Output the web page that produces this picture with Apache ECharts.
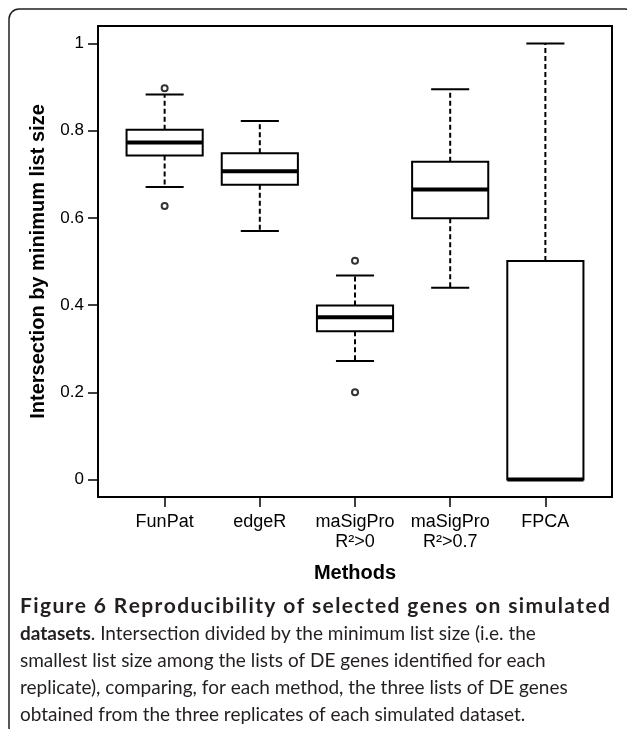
<!DOCTYPE html>
<html>
<head>
<meta charset="utf-8">
<script src="https://cdn.jsdelivr.net/npm/echarts@6/dist/echarts.min.js"></script>
<style>
  body { margin: 0; background: #fff; }
  #chart { width: 627px; height: 729px; }
</style>
</head>
<body>
<div id="chart"></div>
<script>
// methods on the x axis (positions 1..5)
const categories = ['FunPat', 'edgeR', 'maSigPro\nR²>0', 'maSigPro\nR²>0.7', 'FPCA'];
const positions = [1, 2, 3, 4, 5];
// box statistics
const lowWhisker = [0.671, 0.570, 0.272, 0.440, 0];
const lowerQuartile = [0.743, 0.676, 0.340, 0.599, 0];
const medians = [0.773, 0.707, 0.372, 0.665, 0];
const upperQuartile = [0.802, 0.748, 0.399, 0.729, 0.501];
const highWhisker = [0.883, 0.822, 0.468, 0.895, 1.0];
// outliers
const outlierPos = [1, 1, 3, 3];
const outlierValues = [0.897, 0.627, 0.502, 0.200];
const yTicks = [0, 0.2, 0.4, 0.6, 0.8, 1];

const boxData = positions.map((p, i) =>
  [p, lowWhisker[i], lowerQuartile[i], medians[i], upperQuartile[i], highWhisker[i]]);
const outlierData = outlierPos.map((p, i) => [p, outlierValues[i]]);

const INK = '#000';
const TEXT = '#231f20';
const captionFont = 'Lato';

function renderBox(params, api) {
  const x = api.value(0);
  const unit = api.size([1, 0])[0];
  const half = unit * 0.4, capHalf = unit * 0.2;
  const pMin = api.coord([x, api.value(1)]);
  const pQ1 = api.coord([x, api.value(2)]);
  const pMed = api.coord([x, api.value(3)]);
  const pQ3 = api.coord([x, api.value(4)]);
  const pMax = api.coord([x, api.value(5)]);
  const cx = pMed[0];
  const dash = { stroke: INK, lineWidth: 2, lineDash: [5, 3] };
  const solid = { stroke: INK, lineWidth: 2 };
  return {
    type: 'group',
    children: [
      { type: 'line', shape: { x1: cx, y1: pQ3[1], x2: cx, y2: pMax[1] }, style: dash },
      { type: 'line', shape: { x1: cx, y1: pQ1[1], x2: cx, y2: pMin[1] }, style: dash },
      { type: 'line', shape: { x1: cx - capHalf, y1: pMax[1], x2: cx + capHalf, y2: pMax[1] }, style: solid },
      { type: 'line', shape: { x1: cx - capHalf, y1: pMin[1], x2: cx + capHalf, y2: pMin[1] }, style: solid },
      { type: 'rect', shape: { x: cx - half, y: pQ3[1], width: half * 2, height: pQ1[1] - pQ3[1] },
        style: { fill: '#fff', stroke: INK, lineWidth: 2 } },
      { type: 'line', shape: { x1: cx - half, y1: pMed[1], x2: cx + half, y2: pMed[1] },
        style: { stroke: INK, lineWidth: 4 } }
    ]
  };
}

// caption first line: letter-spaced so it fills the panel width
function spacedLine(text, font, x0, x1, y) {
  const ctx = document.createElement('canvas').getContext('2d');
  ctx.font = font;
  const chars = text.split('');
  const widths = chars.map(c => ctx.measureText(c).width);
  const total = widths.reduce((a, b) => a + b, 0);
  const extra = (x1 - x0 - total) / (chars.length - 1);
  let x = x0;
  const out = [];
  chars.forEach((c, i) => {
    if (c !== ' ') {
      out.push({ type: 'text', style: { x: x, y: y, text: c, font: font, fill: TEXT, verticalAlign: 'middle' } });
    }
    x += widths[i] + extra;
  });
  return out;
}

const captionLines = [
  '{b|datasets}. Intersection divided by the minimum list size (i.e. the',
  'smallest list size among the lists of DE genes identified for each',
  'replicate), comparing, for each method, the three lists of DE genes',
  'obtained from the three replicates of each simulated dataset.'
];

const graphics = [
  { type: 'rect', shape: { x: 9, y: 9, width: 626, height: 728, r: 10 },
    style: { fill: 'none', stroke: TEXT, lineWidth: 1.5 }, silent: true }
].concat(
  spacedLine('Figure 6 Reproducibility of selected genes on simulated', 'bold 21px ' + captionFont, 20, 610, 606)
).concat(captionLines.map((t, i) => ({
  type: 'text',
  style: {
    x: 20, y: 634 + i * 27, text: t,
    font: '19px ' + captionFont, fill: TEXT, verticalAlign: 'middle',
    rich: { b: { fontWeight: 'bold', fontSize: 19, fontFamily: captionFont, fill: TEXT } }
  }
})));

const chart = echarts.init(document.getElementById('chart'));
chart.setOption({
  animation: false,
  backgroundColor: '#fff',
  grid: {
    left: 98, top: 26, right: 15, bottom: 232,
    show: true, borderColor: INK, borderWidth: 2
  },
  xAxis: {
    type: 'value', min: 0.3, max: 5.7,
    splitLine: { show: false },
    axisLine: { show: false, onZero: false },
    axisTick: { show: true, length: 10, lineStyle: { color: INK, width: 1.5 }, customValues: positions },
    axisLabel: {
      customValues: positions, margin: 15,
      formatter: v => categories[Math.round(v) - 1],
      fontFamily: 'Liberation Sans', fontSize: 18, color: INK, lineHeight: 20
    },
    name: 'Methods', nameLocation: 'middle', nameGap: 66,
    nameTextStyle: { fontFamily: 'Liberation Sans', fontSize: 20, fontWeight: 'bold', color: INK }
  },
  yAxis: {
    type: 'value', min: -0.04, max: 1.04,
    splitLine: { show: false },
    axisLine: { show: false, onZero: false },
    axisTick: { show: true, length: 10, lineStyle: { color: INK, width: 1.5 }, customValues: yTicks },
    axisLabel: {
      customValues: yTicks, margin: 14,
      formatter: v => String(v),
      fontFamily: 'Liberation Sans', fontSize: 17, color: INK
    },
    name: 'Intersection by minimum list size', nameLocation: 'middle', nameGap: 50, nameRotate: 90,
    nameTextStyle: { fontFamily: 'Liberation Sans', fontSize: 20, fontWeight: 'bold', color: INK }
  },
  series: [
    {
      type: 'custom',
      renderItem: renderBox,
      encode: { x: 0, y: [1, 2, 3, 4, 5] },
      data: boxData,
      z: 2
    },
    {
      type: 'scatter',
      data: outlierData,
      symbol: 'circle', symbolSize: 6,
      itemStyle: { color: '#fff', borderColor: INK, borderWidth: 2 },
      z: 3
    }
  ],
  graphic: graphics
});
</script>
</body>
</html>
